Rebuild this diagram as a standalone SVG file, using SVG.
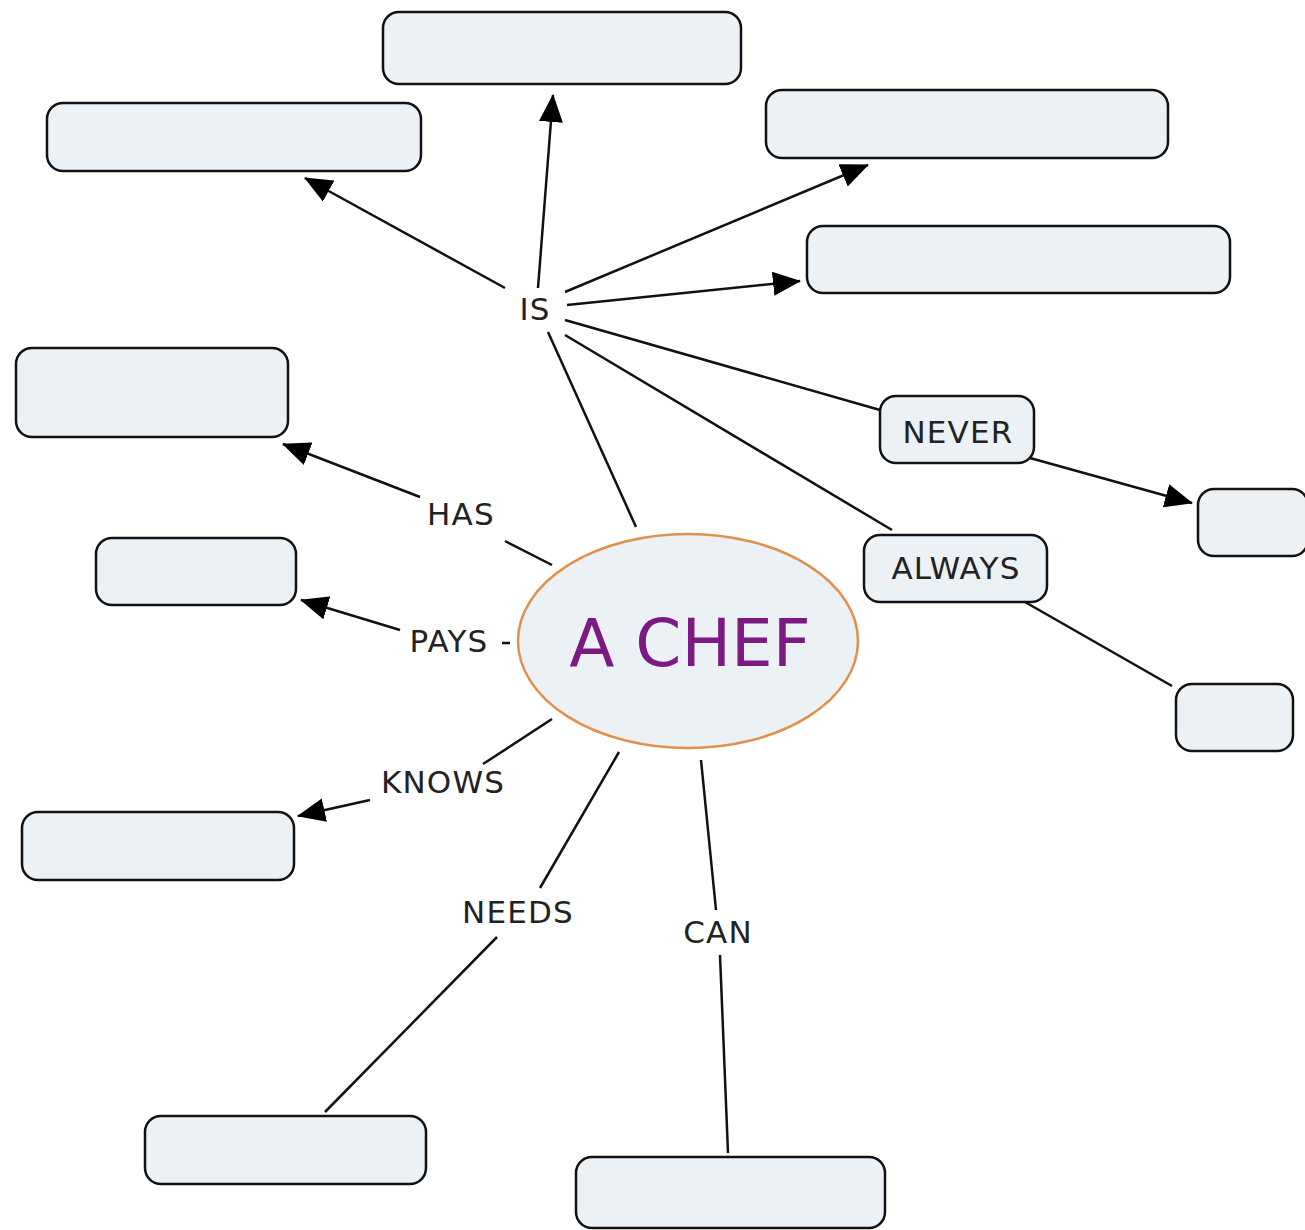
<svg xmlns="http://www.w3.org/2000/svg" width="1305" height="1230" viewBox="0 0 1305 1230">
<style>
.box{fill:#ebf1f4;stroke:#111;stroke-width:2.5}
.lbl{font-family:"DejaVu Sans",Verdana,sans-serif;font-size:31px;letter-spacing:1.2px;fill:#222;text-anchor:middle}
.ln{stroke:#111;stroke-width:2.5;fill:none}
.ar{marker-end:url(#arr)}
</style>
<defs>
<marker id="arr" markerUnits="userSpaceOnUse" markerWidth="28" markerHeight="24" refX="27" refY="12" orient="auto">
<path d="M0,0 L28,12 L0,24 z" fill="#000"/>
</marker>
</defs>
<rect width="1305" height="1230" fill="#fff"/>
<g id="connectors">
<line class="ln" x1="636" y1="527" x2="548" y2="332"/>
<line class="ln ar" x1="538" y1="288" x2="553" y2="95"/>
<line class="ln ar" x1="505" y1="288" x2="305" y2="178"/>
<line class="ln ar" x1="565" y1="292" x2="868" y2="165"/>
<line class="ln ar" x1="567" y1="305" x2="800" y2="281"/>
<line class="ln" x1="565" y1="320" x2="880" y2="410"/>
<line class="ln ar" x1="1030" y1="458" x2="1192" y2="503"/>
<line class="ln" x1="565" y1="335" x2="892" y2="530"/>
<line class="ln" x1="1025" y1="602" x2="1172" y2="686"/>
<line class="ln" x1="552" y1="565" x2="505" y2="541"/>
<line class="ln ar" x1="420" y1="497" x2="283" y2="444"/>
<line class="ln" x1="502" y1="643" x2="510" y2="643"/>
<line class="ln ar" x1="400" y1="630" x2="301" y2="600"/>
<line class="ln" x1="552" y1="719" x2="483" y2="764"/>
<line class="ln ar" x1="370" y1="800" x2="298" y2="816"/>
<line class="ln" x1="619" y1="752" x2="540" y2="888"/>
<line class="ln" x1="497" y1="937" x2="325" y2="1112"/>
<line class="ln" x1="701" y1="760" x2="716" y2="910"/>
<line class="ln" x1="720" y1="955" x2="728" y2="1153"/>
</g>
<g id="labels">
<text class="lbl" x="535" y="320">IS</text>
<text class="lbl" x="461" y="525">HAS</text>
<text class="lbl" x="449" y="652">PAYS</text>
<text class="lbl" x="443" y="793">KNOWS</text>
<text class="lbl" x="518" y="923">NEEDS</text>
<text class="lbl" x="718" y="943">CAN</text>
</g>
<g id="center">
<ellipse cx="688" cy="641" rx="170" ry="107" fill="#ebf1f4" stroke="#e0904a" stroke-width="2.5"/>
<text x="690" y="666" font-family="DejaVu Sans,Verdana,sans-serif" font-size="66" fill="#7a1a82" text-anchor="middle">A CHEF</text>
</g>
<g id="n-top"><rect class="box" x="383" y="12" width="358" height="72" rx="16"/></g>
<g id="n-topleft"><rect class="box" x="47" y="103" width="374" height="68" rx="16"/></g>
<g id="n-topright"><rect class="box" x="766" y="90" width="402" height="68" rx="16"/></g>
<g id="n-right"><rect class="box" x="807" y="226" width="423" height="67" rx="16"/></g>
<g id="n-has"><rect class="box" x="16" y="348" width="272" height="89" rx="16"/></g>
<g id="n-pays"><rect class="box" x="96" y="538" width="200" height="67" rx="16"/></g>
<g id="n-knows"><rect class="box" x="22" y="812" width="272" height="68" rx="16"/></g>
<g id="n-needs"><rect class="box" x="145" y="1116" width="281" height="68" rx="16"/></g>
<g id="n-can"><rect class="box" x="576" y="1157" width="309" height="71" rx="16"/></g>
<g id="n-never-target"><rect class="box" x="1198" y="489" width="110" height="67" rx="16"/></g>
<g id="n-always-target"><rect class="box" x="1176" y="684" width="117" height="67" rx="16"/></g>
<g id="n-never"><rect class="box" x="880" y="396" width="154" height="67" rx="16"/><text class="lbl" x="958" y="443">NEVER</text></g>
<g id="n-always"><rect class="box" x="864" y="535" width="183" height="67" rx="16"/><text class="lbl" x="956" y="579">ALWAYS</text></g>
</svg>
